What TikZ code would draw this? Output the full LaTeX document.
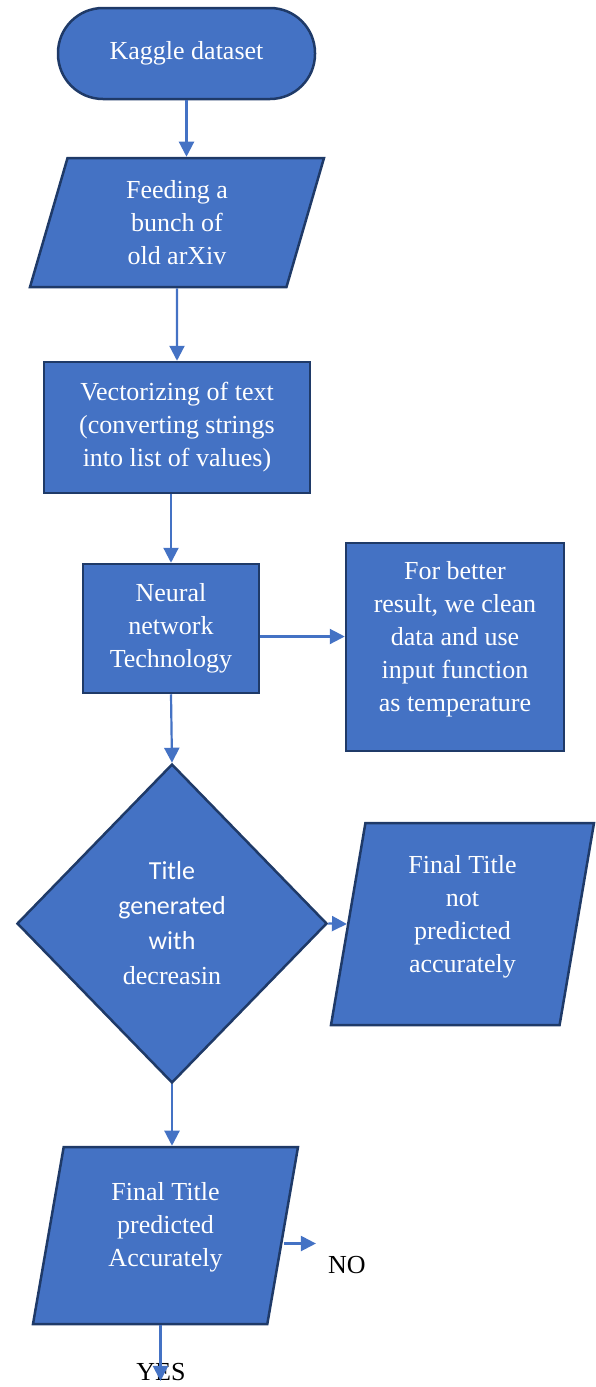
\documentclass[tikz,border=0pt]{standalone}
\usepackage{fontspec}
\setmainfont{Liberation Serif}
\newfontfamily\calibri{Carlito}
\usetikzlibrary{positioning}
\usetikzlibrary{arrows.meta}
\usetikzlibrary{shapes.geometric}
\definecolor{boxblue}{HTML}{4472C4}
\definecolor{boxedge}{HTML}{1F3A68}
\tikzset{flowbox/.style={rectangle,draw=boxedge,fill=boxblue,line width=2.5pt,
text=white,align=center,inner sep=2pt,font=\fontsize{26}{33}\selectfont}}
\tikzset{flowterm/.style={flowbox,rounded corners=45pt,minimum width=257pt,minimum height=91pt}}
\tikzset{flowio/.style={flowbox,trapezium,trapezium stretches body,inner sep=0pt}}
\tikzset{flowdec/.style={flowbox,diamond,aspect=1,inner sep=0pt,font=\fontsize{26}{35}\selectfont}}
\tikzset{flowline/.style={draw=boxblue,line width=2.2pt,-{Triangle[length=15pt,width=15pt]}}}
\tikzset{flowlabel/.style={inner sep=0pt,font=\fontsize{26}{30}\selectfont}}

\begin{document}
\begin{tikzpicture}[x=1pt,y=-1pt]
    \useasboundingbox (0,0) rectangle (596,1387);

    \node[flowterm] (kaggle) at (186.5,53.5) {Kaggle dataset};
    \node[flowio,trapezium left angle=66,trapezium right angle=114,
        minimum width=294pt,minimum height=129pt] (feed) at (177,222.5)
        {Feeding a\\bunch of\\old arXiv};
    \node[flowbox,minimum width=266pt,minimum height=131pt] (vect) at (177,427.5)
        {Vectorizing of text\\(converting strings\\into list of values)};
    \node[flowbox,minimum width=176pt,minimum height=129pt] (neural) at (171,628.5)
        {Neural\\network\\Technology};
    \node[flowbox,minimum width=218pt,minimum height=208pt] (better) at (455,647)
        {For better\\result, we clean\\data and use\\input function\\as temperature\\[-11pt]};
    \node[flowdec,minimum width=310pt,minimum height=319pt] (title) at (172,923.5)
        {\calibri Title\\\calibri generated\\\calibri with\\decreasin};
    \node[flowio,trapezium left angle=76,trapezium right angle=104,
        minimum width=263pt,minimum height=202pt] (notacc) at (462.5,924)
        {Final Title\\not\\predicted\\accurately\\[-12pt]};
    \node[flowio,trapezium left angle=74,trapezium right angle=106,
        minimum width=265pt,minimum height=177pt] (acc) at (165.5,1235.5)
        {Final Title\\predicted\\Accurately\\[-10pt]};

    \node[flowlabel] (no) at (347,1265) {NO};
    \node[flowlabel] (yes) at (161,1372) {YES};

    % connectors
    \draw[flowline] (kaggle.south) -- (kaggle.south |- feed.north);
    \draw[flowline] (feed.south) -- (vect.north);
    \draw[flowline] (neural.north |- vect.south) -- (neural.north);
    \coordinate (nr) at ([yshift=-8pt]neural.east);
    \draw[flowline] (nr) -- (nr -| better.west);
    \draw[flowline] (neural.south) -- (title.north);
    \draw[flowline] (title.east) -- (notacc.west);
    \draw[flowline] (title.south) -- (title.south |- acc.north);
    \coordinate (accr) at ([yshift=-8pt]acc.east);
    \coordinate (noend) at ([xshift=32pt]accr);
    \draw[flowline] (accr) -- (noend);
    \coordinate (yesend) at ([xshift=-5pt]acc.south |- yes.south);
    \draw[flowline] ([xshift=-5pt]acc.south) -- (yesend);

\end{tikzpicture}
\end{document}
